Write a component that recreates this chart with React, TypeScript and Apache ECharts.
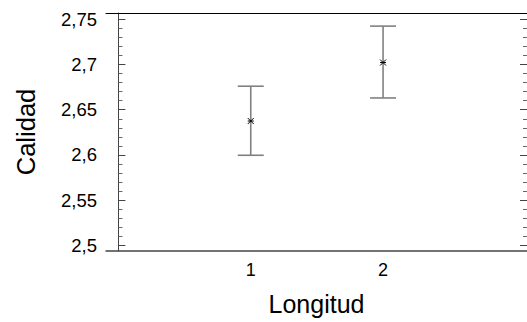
import React, { useEffect, useRef } from "react";
import * as echarts from "echarts";

const categories = [1, 2];
const means = [2.6375, 2.7022];
const lows = [2.5996, 2.663];
const highs = [2.676, 2.7425];
const majorTicks = [2.5, 2.55, 2.6, 2.65, 2.7, 2.75];
const minorTicks = [
  2.51, 2.52, 2.53, 2.54, 2.56, 2.57, 2.58, 2.59, 2.61, 2.62, 2.63, 2.64,
  2.66, 2.67, 2.68, 2.69, 2.71, 2.72, 2.73, 2.74,
];
const xTickLabels = [1, 2];

const Y_MIN = 2.4937;
const Y_MAX = 2.757;
const X_MIN = -0.094;
const X_MAX = 3.088;

export default function App() {
  const ref = useRef<HTMLDivElement>(null);
  useEffect(() => {
    if (!ref.current) return;
    const chart = echarts.init(ref.current, null, { renderer: "svg" });
    const font = "'Liberation Sans', Arial, sans-serif";
    const data = categories.map((c, i) => [c, means[i], lows[i], highs[i]]);
    const yBase = {
      type: "value",
      min: Y_MIN,
      max: Y_MAX,
      splitLine: { show: false },
    };
    chart.setOption({
      animation: false,
      backgroundColor: "#fff",
      grid: { left: 106, right: 0, top: 13, bottom: 71 },
      xAxis: [
        {
          type: "value",
          min: X_MIN,
          max: X_MAX,
          position: "bottom",
          axisLine: { show: true, lineStyle: { color: "#444", width: 1.5 } },
          axisTick: { show: false },
          splitLine: { show: false },
          axisLabel: {
            customValues: xTickLabels,
            color: "#000",
            fontFamily: font,
            fontSize: 18,
            margin: 10,
          },
          name: "Longitud",
          nameLocation: "middle",
          nameGap: 40,
          nameTextStyle: { color: "#000", fontFamily: font, fontSize: 25 },
        },
        {
          type: "value",
          min: X_MIN,
          max: X_MAX,
          position: "top",
          axisLine: { show: true, lineStyle: { color: "#000", width: 1 } },
          axisTick: { show: false },
          axisLabel: { show: false },
          splitLine: { show: false },
        },
      ],
      yAxis: [
        {
          ...yBase,
          position: "left",
          axisLine: { show: true, lineStyle: { color: "#444", width: 1 } },
          axisTick: {
            show: true,
            inside: true,
            length: 7,
            customValues: majorTicks,
            lineStyle: { color: "#444" },
          },
          axisLabel: {
            customValues: majorTicks,
            formatter: (v: number) => String(v).replace(".", ","),
            color: "#000",
            fontFamily: font,
            fontSize: 18.5,
            margin: 9,
          },
          name: "Calidad",
          nameLocation: "middle",
          nameRotate: 90,
          nameGap: 67,
          nameTextStyle: { color: "#000", fontFamily: font, fontSize: 25.5 },
        },
        {
          ...yBase,
          position: "left",
          axisLine: { show: false },
          axisTick: {
            show: true,
            inside: true,
            length: 4,
            customValues: minorTicks,
            lineStyle: { color: "#666" },
          },
          axisLabel: { show: false },
        },
        {
          ...yBase,
          position: "right",
          axisLine: { show: false },
          axisTick: {
            show: true,
            inside: true,
            length: 7,
            customValues: majorTicks,
            lineStyle: { color: "#444" },
          },
          axisLabel: { show: false },
        },
        {
          ...yBase,
          position: "right",
          axisLine: { show: false },
          axisTick: {
            show: true,
            inside: true,
            length: 4,
            customValues: minorTicks,
            lineStyle: { color: "#666" },
          },
          axisLabel: { show: false },
        },
      ],
      series: [
        {
          type: "custom",
          xAxisIndex: 0,
          yAxisIndex: 0,
          data,
          renderItem: (params: any, api: any) => {
            const x = api.value(0);
            const m = api.coord([x, api.value(1)]);
            const lo = api.coord([x, api.value(2)]);
            const hi = api.coord([x, api.value(3)]);
            const hw = 13;
            const s = 3;
            const barStyle = { stroke: "#808080", lineWidth: 1.6 };
            const starStyle = { stroke: "#000", lineWidth: 1 };
            return {
              type: "group",
              children: [
                { type: "line", shape: { x1: lo[0], y1: lo[1], x2: hi[0], y2: hi[1] }, style: barStyle },
                { type: "line", shape: { x1: lo[0] - hw, y1: lo[1], x2: lo[0] + hw, y2: lo[1] }, style: barStyle },
                { type: "line", shape: { x1: hi[0] - hw, y1: hi[1], x2: hi[0] + hw, y2: hi[1] }, style: barStyle },
                { type: "line", shape: { x1: m[0] - s, y1: m[1] - s, x2: m[0] + s, y2: m[1] + s }, style: starStyle },
                { type: "line", shape: { x1: m[0] - s, y1: m[1] + s, x2: m[0] + s, y2: m[1] - s }, style: starStyle },
                { type: "line", shape: { x1: m[0] - s, y1: m[1], x2: m[0] + s, y2: m[1] }, style: starStyle },
              ],
            };
          },
        },
      ],
    });
    return () => chart.dispose();
  }, []);
  return <div ref={ref} style={{ width: 527, height: 322, position: "absolute", left: 0, top: 0 }} />;
}
